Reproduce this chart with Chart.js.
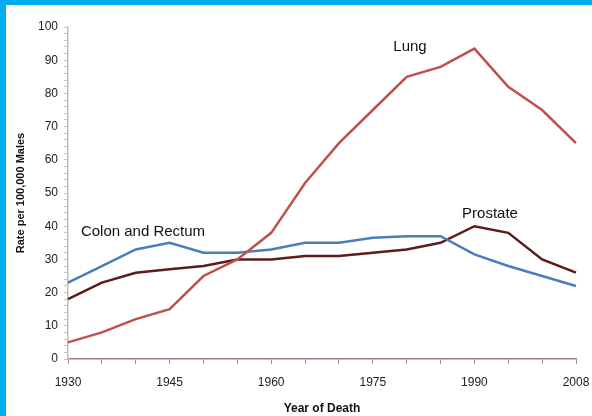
<!DOCTYPE html>
<html>
<head>
<meta charset="utf-8">
<script src="https://cdn.jsdelivr.net/npm/chart.js@4"></script>
<style>
    html, body { margin: 0; padding: 0; background: #fff; }
    #wrap {
        width: 592px;
        height: 416px;
        box-sizing: border-box;
        border-top: 5px solid #00AEEF;
        border-left: 6px solid #00AEEF;
        background: #fff;
    }
    canvas { display: block; }
</style>
</head>
<body>
<div id="wrap"><canvas id="cancer-chart" width="586" height="411"></canvas></div>
<script>
// Años de muerte (el último punto es 2008)
const years = ['1930', '1935', '1940', '1945', '1950', '1955', '1960', '1965',
               '1970', '1975', '1980', '1985', '1990', '1995', '2000', '2008'];
const shownYears = ['1930', '1945', '1960', '1975', '1990', '2008'];

// Tasa por 100,000 hombres
const lung = [5, 8, 12, 15, 25, 30, 38, 53, 65, 75, 85, 88, 93.5, 82, 75, 65];
const colonRectum = [23, 28, 33, 35, 32, 32, 33, 35, 35, 36.5, 37, 37, 31.5, 28, 25, 22];
const prostate = [18, 23, 26, 27, 28, 30, 30, 31, 31, 32, 33, 35, 40, 38, 30, 26];

const fontFamily = '"Liberation Sans", Arial, sans-serif';

// Etiquetas de las series dentro del gráfico
const seriesLabels = {
    id: 'seriesLabels',
    afterDatasetsDraw(chart) {
        const ctx = chart.ctx;
        ctx.save();
        ctx.font = '15px ' + fontFamily;
        ctx.fillStyle = '#111';
        ctx.textAlign = 'center';
        ctx.textBaseline = 'middle';
        ctx.fillText('Lung', 404, 42);
        ctx.fillText('Colon and Rectum', 137, 227);
        ctx.fillText('Prostate', 484, 209);
        ctx.restore();
    }
};

const ctx = document.getElementById('cancer-chart').getContext('2d');
new Chart(ctx, {
    type: 'line',
    data: {
        labels: years,
        datasets: [
            {
                label: 'Lung',
                data: lung,
                borderColor: '#C0504D',
                borderWidth: 2.5
            },
            {
                label: 'Colon and Rectum',
                data: colonRectum,
                borderColor: '#4A7EBB',
                borderWidth: 2.5
            },
            {
                label: 'Prostate',
                data: prostate,
                borderColor: '#5E1B1B',
                borderWidth: 2.5
            }
        ]
    },
    options: {
        responsive: false,
        animation: false,
        elements: {
            point: { radius: 0 },
            line: { tension: 0 }
        },
        layout: {
            padding: { top: 22, right: 16, left: 0, bottom: 0 }
        },
        scales: {
            x: {
                type: 'category',
                offset: false,
                afterFit: (scale) => {
                    scale.height = 57;
                    scale.paddingLeft = 0;
                    scale.paddingRight = 0;
                },
                grid: {
                    offset: false,
                    drawOnChartArea: false,
                    color: '#B08C8C',
                    tickLength: 5
                },
                border: { color: '#A87C7C', width: 1.5 },
                ticks: {
                    autoSkip: false,
                    maxRotation: 0,
                    padding: 11,
                    color: '#222',
                    font: { family: fontFamily, size: 12 },
                    callback: function(value) {
                        const y = this.getLabelForValue(value);
                        return shownYears.includes(y) ? y : '';
                    }
                },
                title: {
                    display: true,
                    text: 'Year of Death',
                    color: '#111',
                    padding: { top: 0, bottom: 0 },
                    font: { family: fontFamily, size: 12, weight: 'bold' }
                }
            },
            y: {
                min: 0,
                max: 100,
                afterFit: (scale) => {
                    scale.width = 62;
                    scale.paddingTop = 0;
                    scale.paddingBottom = 0;
                },
                grid: {
                    drawOnChartArea: false,
                    color: '#C4C4C4',
                    tickLength: 4
                },
                border: { color: '#BFBFBF', width: 1.5 },
                ticks: {
                    stepSize: 2,
                    autoSkip: false,
                    padding: 6,
                    color: '#222',
                    font: { family: fontFamily, size: 12 },
                    callback: (value) => value % 10 === 0 ? value : ''
                },
                title: {
                    display: true,
                    text: 'Rate per 100,000 Males',
                    color: '#111',
                    padding: { top: 8, bottom: 0 },
                    font: { family: fontFamily, size: 11, weight: 'bold' }
                }
            }
        },
        plugins: {
            legend: { display: false },
            tooltip: { enabled: false }
        }
    },
    plugins: [seriesLabels]
});
</script>
</body>
</html>
